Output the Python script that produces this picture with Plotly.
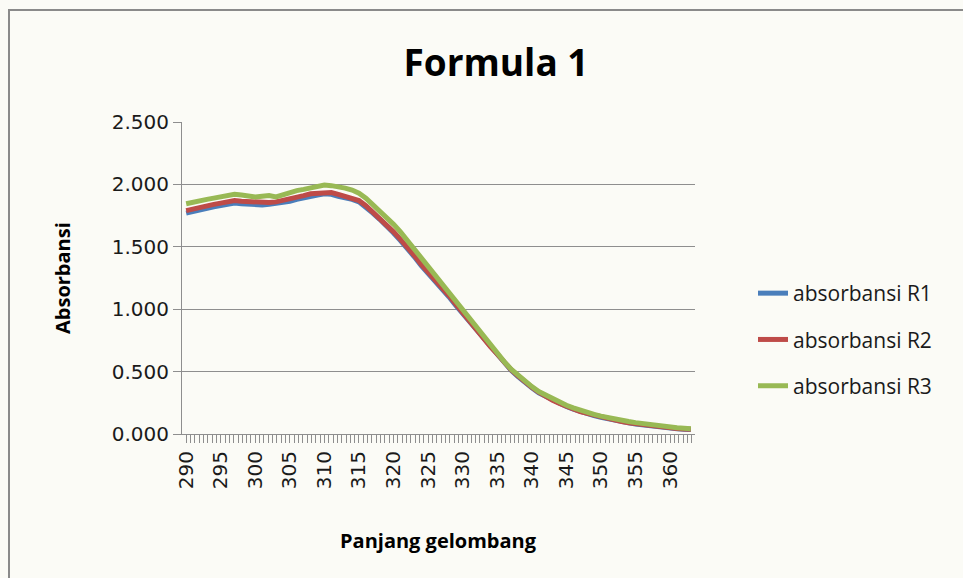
import plotly.graph_objects as go

wavelength = list(range(290, 364))

absorbansi_r1 = [
    1.770, 1.785, 1.800, 1.810, 1.820, 1.830, 1.840, 1.850, 1.845, 1.840,
    1.835, 1.835, 1.840, 1.845, 1.855, 1.865, 1.880, 1.895, 1.910, 1.915,
    1.925, 1.920, 1.905, 1.895, 1.880, 1.860, 1.820, 1.770, 1.720, 1.670,
    1.610, 1.550, 1.490, 1.420, 1.350, 1.290, 1.230, 1.170, 1.100, 1.030,
    0.965, 0.895, 0.825, 0.755, 0.695, 0.635, 0.570, 0.510, 0.460, 0.410,
    0.370, 0.330, 0.300, 0.270, 0.245, 0.220, 0.200, 0.180, 0.163, 0.148,
    0.133, 0.120, 0.108, 0.098, 0.089, 0.080, 0.072, 0.065, 0.058, 0.052,
    0.047, 0.042, 0.039, 0.037,
]

absorbansi_r2 = [
    1.790, 1.805, 1.820, 1.830, 1.840, 1.850, 1.860, 1.870, 1.865, 1.860,
    1.855, 1.855, 1.855, 1.860, 1.870, 1.880, 1.895, 1.910, 1.925, 1.930,
    1.940, 1.935, 1.920, 1.905, 1.890, 1.870, 1.830, 1.780, 1.730, 1.680,
    1.620, 1.560, 1.500, 1.430, 1.360, 1.300, 1.240, 1.180, 1.110, 1.040,
    0.970, 0.900, 0.830, 0.760, 0.700, 0.640, 0.575, 0.515, 0.465, 0.415,
    0.375, 0.335, 0.300, 0.270, 0.245, 0.220, 0.200, 0.180, 0.165, 0.150,
    0.135, 0.122, 0.110, 0.100, 0.090, 0.082, 0.074, 0.067, 0.060, 0.054,
    0.048, 0.043, 0.040, 0.038,
]

absorbansi_r3 = [
    1.845, 1.860, 1.875, 1.880, 1.890, 1.900, 1.905, 1.920, 1.915, 1.905,
    1.900, 1.905, 1.910, 1.900, 1.920, 1.935, 1.950, 1.960, 1.975, 1.990,
    1.995, 1.990, 1.985, 1.970, 1.955, 1.930, 1.890, 1.840, 1.780, 1.730,
    1.680, 1.620, 1.550, 1.480, 1.410, 1.340, 1.270, 1.200, 1.130, 1.060,
    0.990, 0.920, 0.850, 0.780, 0.710, 0.650, 0.580, 0.520, 0.470, 0.420,
    0.380, 0.340, 0.310, 0.280, 0.255, 0.230, 0.210, 0.190, 0.172, 0.157,
    0.143, 0.130, 0.119, 0.109, 0.100, 0.091, 0.083, 0.076, 0.069, 0.063,
    0.057, 0.051, 0.046, 0.042,
]

series_names = ["absorbansi R1", "absorbansi R2", "absorbansi R3"]
series_colors = ["#4a7ebb", "#be4b48", "#98b954"]
series_values = [absorbansi_r1, absorbansi_r2, absorbansi_r3]

fig = go.Figure()
for i, (name, color, vals) in enumerate(zip(series_names, series_colors, series_values)):
    fig.add_trace(go.Scatter(
        x=wavelength, y=vals, name=name, mode="lines",
        line=dict(color=color, width=5),
        legendgroup=f"g{i}",
    ))

grid = "#8e8e8e"
tick_font = dict(family="DejaVu Sans", size=20, color="#1a1a1a")
bold_font = "Open Sans"

fig.update_layout(
    width=963, height=578, autosize=False,
    margin=dict(l=182, r=268, t=122, b=144),
    paper_bgcolor="#fbfbf6",
    plot_bgcolor="#fbfbf6",
    title=dict(
        text="<b>Formula 1</b>",
        font=dict(family=bold_font, size=37, color="#000000"),
        x=496 / 963, y=1 - 63 / 578, xref="container", yref="container",
        xanchor="center", yanchor="middle",
    ),
    showlegend=True,
    legend=dict(
        x=(753 - 182) / 513, y=(434 - 339.5) / 312,
        xanchor="left", yanchor="middle",
        font=dict(family="Open Sans", size=21, color="#1a1a1a"),
        bgcolor="rgba(0,0,0,0)",
        tracegroupgap=16,
        traceorder="grouped",
    ),
    xaxis=dict(
        range=[289.4, 363.6],
        tickmode="linear", tick0=290, dtick=5,
        tickangle=-90,
        ticks="outside", ticklen=8, tickcolor=grid,
        tickfont=tick_font,
        showgrid=False, zeroline=False,
        showline=True, linecolor=grid, linewidth=1,
        minor=dict(ticks="outside", ticklen=8, tickcolor=grid,
                   tick0=290, dtick=0.625, showgrid=False),
    ),
    yaxis=dict(
        range=[0, 2.5],
        tickmode="linear", tick0=0, dtick=0.5,
        tickformat=".3f",
        ticks="outside", ticklen=8, tickcolor=grid,
        tickfont=tick_font,
        showgrid=True, gridcolor=grid, gridwidth=1,
        zeroline=False,
        showline=True, linecolor=grid, linewidth=1,
    ),
    annotations=[
        dict(text="<b>Absorbansi</b>", textangle=-90,
             x=(62 - 182) / 513, y=0.5, xref="paper", yref="paper",
             xanchor="center", yanchor="middle", showarrow=False,
             font=dict(family=bold_font, size=20, color="#000000")),
        dict(text="<b>Panjang gelombang</b>",
             x=(438 - 182) / 513, y=(434 - 540) / 312, xref="paper", yref="paper",
             xanchor="center", yanchor="middle", showarrow=False,
             font=dict(family=bold_font, size=20, color="#000000")),
    ],
    shapes=[
        dict(type="rect", xref="paper", yref="paper",
             x0=(9 - 182) / 513, x1=(1000 - 182) / 513,
             y0=(434 - 620) / 312, y1=(434 - 10) / 312,
             line=dict(color="#8a8a8a", width=2), layer="below"),
    ],
)

fig.write_html(
    "out.html",
    config={"displayModeBar": False},
    post_script="document.body.style.margin='0px';document.body.style.overflow='hidden';",
)
